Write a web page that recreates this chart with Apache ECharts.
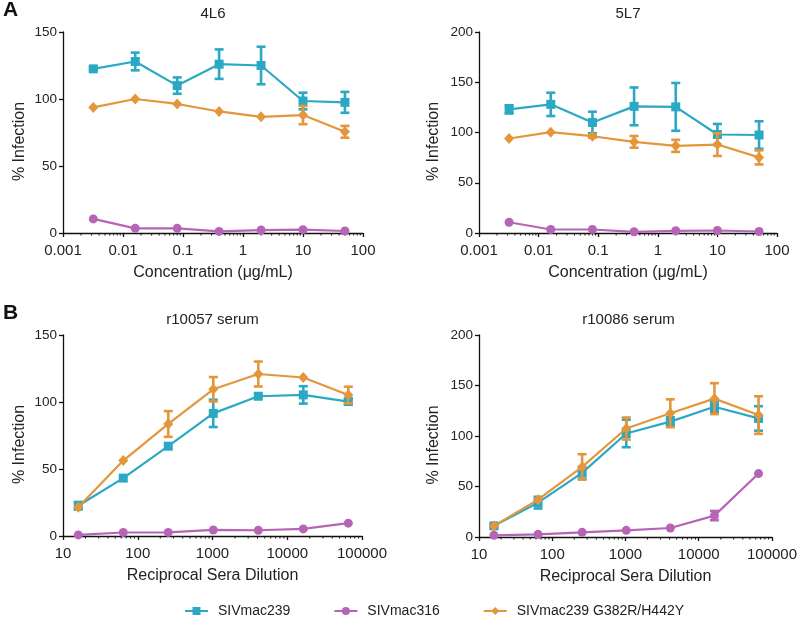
<!DOCTYPE html>
<html>
<head>
<meta charset="utf-8">
<script src="https://cdn.jsdelivr.net/npm/echarts@6/dist/echarts.min.js"></script>
<style>html,body{margin:0;padding:0;background:#fff;}#c{width:800px;height:619px;}</style>
</head>
<body>
<div id="c"></div>
<script>
// ---- data ----
const concentrations = [0.0032, 0.016, 0.08, 0.4, 2, 10, 50];
const dilutions = [16, 64, 256, 1024, 4096, 16384, 65536];

const seriesNames = ['SIVmac239', 'SIVmac316', 'SIVmac239 G382R/H442Y'];
const panelTitles = ['4L6', '5L7', 'r10057 serum', 'r10086 serum'];

// 4L6
const t_4L6 = [122.5, 128, 110, 126, 125, 98.5, 97.5];
const te_4L6 = [1, 6.6, 6.1, 11, 14, 6.2, 7.8];
const p_4L6 = [10.5, 3.5, 3.5, 1.2, 2.2, 2.5, 1.5];
const pe_4L6 = [0, 0, 0, 0, 0, 0, 0];
const o_4L6 = [93.7, 100, 96.3, 90.7, 86.7, 88, 75.5];
const oe_4L6 = [0, 0, 0, 0, 0, 6.8, 4.4];

// 5L7
const t_5L7 = [123, 128, 110, 126, 125.5, 98, 97.5];
const te_5L7 = [4.1, 11.6, 10.7, 18.8, 23.8, 10.5, 13.7];
const p_5L7 = [10.7, 3.5, 3.5, 1.2, 2.2, 2.5, 1.5];
const pe_5L7 = [0, 0, 0, 0, 0, 0, 0];
const o_5L7 = [94, 100.3, 96.3, 90.7, 86.7, 88, 75.2];
const oe_5L7 = [0, 0, 1.5, 5.8, 6, 11.3, 7];

// r10057 serum
const t_r10057 = [22.6, 43.2, 67, 91.5, 104.3, 105.3, 100.3];
const te_r10057 = [2.8, 0, 0, 10.2, 0, 6.5, 2];
const p_r10057 = [0.8, 2.6, 2.7, 4.5, 4.3, 5.3, 9.6];
const pe_r10057 = [0, 0, 0, 0, 0, 0, 0];
const o_r10057 = [21.4, 56.3, 83.6, 109.5, 120.9, 118.3, 105.2];
const oe_r10057 = [0, 0, 9.6, 9.1, 9.3, 0, 6.2];

// r10086 serum
const t_r10086 = [11, 34, 63.5, 102.5, 114.2, 129, 117.4];
const te_r10086 = [1.5, 5.8, 5.8, 13.6, 4.3, 5.3, 12.1];
const p_r10086 = [1.7, 2.6, 4.6, 6.6, 8.9, 21.2, 62.8];
const pe_r10086 = [0, 0, 0, 0, 0, 4.6, 0];
const o_r10086 = [11, 37, 69.4, 107.4, 122.5, 137, 120.7];
const oe_r10086 = [0, 0, 12.6, 10.9, 13.8, 15.3, 18.6];

const yMaxes = [150, 200, 150, 200];
const xRanges = [[0.001, 100], [0.001, 100], [10, 100000], [10, 100000]];
const xNames = ['Concentration (\u03bcg/mL)', 'Concentration (\u03bcg/mL)', 'Reciprocal Sera Dilution', 'Reciprocal Sera Dilution'];

// ---- styling ----
const colors = ['#2aa8c4', '#b665b5', '#e3963a'];
const symbols = ['rect', 'circle', 'diamond'];
const symbolSizes = [9, 9, [10, 11]];
const grids = [
  {left: 63, top: 32, width: 300, height: 201},
  {left: 479, top: 32, width: 298, height: 201},
  {left: 63, top: 335, width: 299, height: 201},
  {left: 479, top: 335, width: 299, height: 202}
];
const titleTops = [6, 6, 312.5, 312.5];
const yNameGaps = [35, 37, 35, 37];
const FONT = 'Liberation Sans, Arial, sans-serif';

const panels = [
  {x: concentrations, d: [[t_4L6, te_4L6], [p_4L6, pe_4L6], [o_4L6, oe_4L6]]},
  {x: concentrations, d: [[t_5L7, te_5L7], [p_5L7, pe_5L7], [o_5L7, oe_5L7]]},
  {x: dilutions, d: [[t_r10057, te_r10057], [p_r10057, pe_r10057], [o_r10057, oe_r10057]]},
  {x: dilutions, d: [[t_r10086, te_r10086], [p_r10086, pe_r10086], [o_r10086, oe_r10086]]}
];

function fmt(v) { return String(Number(v.toPrecision(3))); }

const xAxis = [], yAxis = [], series = [], titles = [];
panels.forEach((p, i) => {
  xAxis.push({
    type: 'log', logBase: 10, gridIndex: i, min: xRanges[i][0], max: xRanges[i][1],
    name: xNames[i], nameLocation: 'middle', nameGap: 32,
    nameTextStyle: {fontSize: 16, color: '#222', fontFamily: FONT},
    axisLine: {show: true, lineStyle: {color: '#111', width: 1.3}},
    axisTick: {show: true, length: 4, lineStyle: {color: '#111', width: 1.3}},
    axisLabel: {fontSize: 15, color: '#222', fontFamily: FONT, margin: 10, formatter: fmt},
    splitLine: {show: false}
  });
  yAxis.push({
    type: 'value', gridIndex: i, min: 0, max: yMaxes[i], interval: 50,
    name: '% Infection', nameLocation: 'middle', nameGap: yNameGaps[i], nameRotate: 90,
    nameTextStyle: {fontSize: 16, color: '#222', fontFamily: FONT, padding: [0, 18, 0, 0]},
    axisLine: {show: true, lineStyle: {color: '#111', width: 1.3}},
    axisTick: {show: true, length: 4, lineStyle: {color: '#111', width: 1.3}},
    axisLabel: {fontSize: 13.5, color: '#222', fontFamily: FONT, margin: 6},
    splitLine: {show: false}
  });
  titles.push({
    text: panelTitles[i], left: grids[i].left + grids[i].width / 2, top: titleTops[i],
    textAlign: 'center', padding: 0,
    textStyle: {fontSize: 15, fontWeight: 'normal', color: '#222', fontFamily: FONT}
  });
  // minor ticks on the log axis
  const minor = [];
  const lo = Math.round(Math.log10(xRanges[i][0])), hi = Math.round(Math.log10(xRanges[i][1]));
  for (let k = lo; k < hi; k++) for (let m = 2; m <= 9; m++) minor.push([m * Math.pow(10, k), 0]);
  series.push({
    type: 'custom', xAxisIndex: i, yAxisIndex: i, silent: true, clip: false, z: 1,
    data: minor, encode: {x: 0, y: 1},
    renderItem: function (params, api) {
      const c = api.coord([api.value(0), 0]);
      return {type: 'line', shape: {x1: c[0], y1: c[1], x2: c[0], y2: c[1] + 2.5},
        style: {stroke: '#111', lineWidth: 1}};
    }
  });
  // draw order: purple, orange, teal
  [1, 2, 0].forEach(s => {
    const vals = p.d[s][0], errs = p.d[s][1];
    series.push({
      type: 'line', name: seriesNames[s], xAxisIndex: i, yAxisIndex: i,
      data: p.x.map((x, j) => [x, vals[j]]),
      symbol: symbols[s], symbolSize: symbolSizes[s], showSymbol: true,
      lineStyle: {color: colors[s], width: 2.2},
      itemStyle: {color: colors[s]}, z: 3 + s, animation: false
    });
    series.push({
      type: 'custom', name: seriesNames[s], xAxisIndex: i, yAxisIndex: i, clip: false,
      data: p.x.map((x, j) => [x, vals[j], errs[j]]), encode: {x: 0, y: 1}, z: 3 + s,
      renderItem: function (params, api) {
        const x = api.value(0), y = api.value(1), e = api.value(2);
        if (!e) return null;
        const a = api.coord([x, y + e]), b = api.coord([x, y - e]);
        const w = 4.5;
        const st = {stroke: colors[s], lineWidth: 2.6};
        return {type: 'group', children: [
          {type: 'line', shape: {x1: a[0], y1: a[1], x2: b[0], y2: b[1]}, style: st},
          {type: 'line', shape: {x1: a[0] - w, y1: a[1], x2: a[0] + w, y2: a[1]}, style: st},
          {type: 'line', shape: {x1: b[0] - w, y1: b[1], x2: b[0] + w, y2: b[1]}, style: st}
        ]};
      }
    });
  });
});

titles.push({text: 'A', left: 3, top: 0, padding: 0, textStyle: {fontSize: 21, fontWeight: 'bold', color: '#111', fontFamily: FONT}});
titles.push({text: 'B', left: 3, top: 303, padding: 0, textStyle: {fontSize: 21, fontWeight: 'bold', color: '#111', fontFamily: FONT}});

const chart = echarts.init(document.getElementById('c'), null, {renderer: 'canvas'});
chart.setOption({
  animation: false,
  backgroundColor: '#fff',
  title: titles,
  grid: grids,
  xAxis: xAxis,
  yAxis: yAxis,
  legend: {
    data: seriesNames, left: 179, top: 599, itemWidth: 23, itemHeight: 10, itemGap: 43,
    textStyle: {fontSize: 14, color: '#222', fontFamily: FONT, padding: [0, 0, 0, 5]}
  },
  series: series
});
</script>
</body>
</html>
